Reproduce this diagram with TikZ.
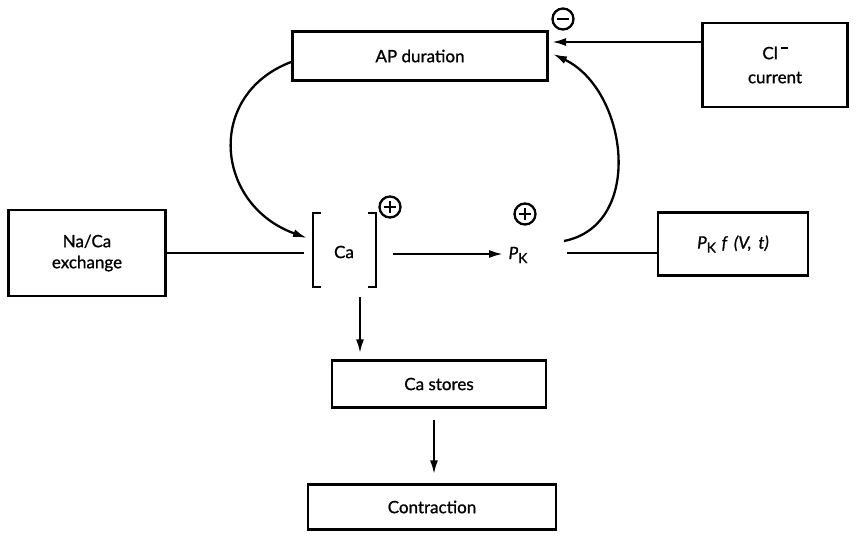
\documentclass[tikz,border=0pt]{standalone}
\usepackage{fontspec}
\setmainfont{Lato}[FakeBold=1]
\usetikzlibrary{arrows.meta}
\begin{document}
\begin{tikzpicture}[x=1pt,y=1pt,
  every node/.style={font=\fontsize{17}{21}\selectfont},
  box/.style={draw,line width=2.3pt,inner sep=0pt,align=center},
  conn/.style={line width=2.3pt},
  arr/.style={line width=2.3pt,-{Latex[length=14pt,width=8pt]}},
  sign/.style={draw,circle,line width=2.3pt,minimum size=21pt,inner sep=0pt}]
\useasboundingbox (0,0) rectangle (856,-536);
% boxes
\node[box,minimum width=255pt,minimum height=49pt] (ap) at (420,-56) {AP duration};
\node[box,minimum width=145pt,minimum height=84pt] (cl) at (775,-65) {Cl\,\raisebox{10pt}{\rule{7pt}{1.8pt}}\\[3pt]current};
\node[box,minimum width=157pt,minimum height=86pt] (nac) at (87,-253) {Na/Ca\\exchange};
\node[box,minimum width=150pt,minimum height=63pt] (pkf) at (733,-244) {\itshape P\raisebox{-4pt}{\upshape\fontsize{14}{16}\selectfont K}\,\,f \,(V, \,t)};
\node[box,minimum width=214pt,minimum height=47pt] (st) at (439,-384) {Ca stores};
\node[box,minimum width=248pt,minimum height=45pt] (con) at (432,-507) {Contraction};
% Ca with brackets
\node (ca) at (344,-252) {Ca};
\draw[line width=2.3pt] (321,-213) -- (313,-213) -- (313,-287) -- (321,-287);
\draw[line width=2.3pt] (368,-213) -- (376,-213) -- (376,-287) -- (368,-287);
\node (pk) at (518,-255) {\itshape P\raisebox{-4pt}{\upshape\fontsize{14}{16}\selectfont K}};
% signs
\node[sign] (m1) at (563,-19) {};
\draw[line width=2.4pt] ([xshift=-6pt]m1.center) -- ([xshift=6pt]m1.center);
\node[sign] (p1) at (390,-207) {};
\draw[line width=1.8pt] ([xshift=-6pt]p1.center) -- ([xshift=6pt]p1.center)
  ([yshift=-6pt]p1.center) -- ([yshift=6pt]p1.center);
\node[sign] (p2) at (525,-214) {};
\draw[line width=1.8pt] ([xshift=-6pt]p2.center) -- ([xshift=6pt]p2.center)
  ([yshift=-6pt]p2.center) -- ([yshift=6pt]p2.center);
% coordinates
\coordinate (caL) at (304,-253);
\coordinate (caR) at (393,-254);
\coordinate (caB) at (360,-297);
\coordinate (pkR) at (567,-253);
\coordinate (pkS) at (564,-241);
\coordinate (apR) at (552,-42);
\coordinate (apR2) at (553,-54);
\coordinate (apL) at (291,-62);
\coordinate (caT) at (307,-238);
% connectors
\draw[conn] (nac.east) -- (caL);
\draw[arr] (caR) -- ([xshift=-2pt]pk.west |- caR);
\draw[conn] (pkR) -- (pkf.west |- pkR);
\draw[arr] (cl.west |- apR) -- (apR);
\draw[arr] (apL) .. controls (205,-95) and (215,-205) .. (caT);
\draw[arr] (pkS) .. controls (645,-225) and (628,-90) .. (apR2);
\draw[arr] (caB) -- ([yshift=6pt]caB |- st.north);
\draw[arr] ([yshift=-11pt]st.south -| 434,0) -- ([yshift=9pt]con.north -| 434,0);
\end{tikzpicture}
\end{document}
